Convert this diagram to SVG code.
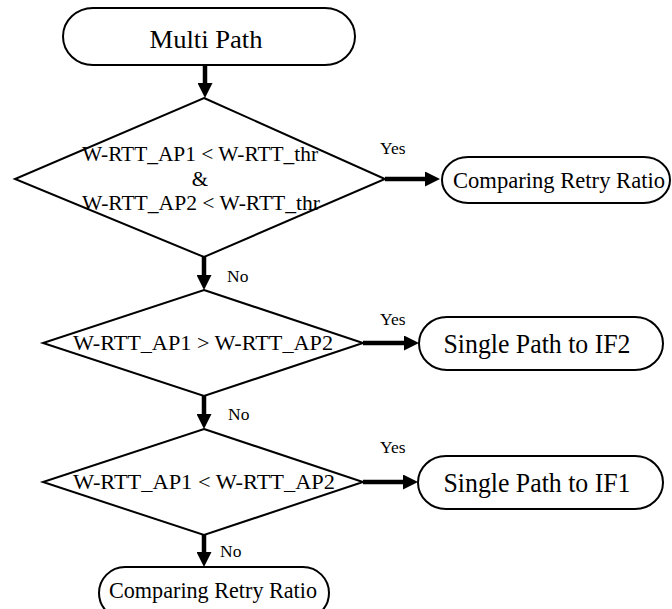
<svg xmlns="http://www.w3.org/2000/svg" width="672" height="609" viewBox="0 0 672 609">
<style>
.shape{fill:#fff;stroke:#000;stroke-width:2}
.conn{stroke:#000;stroke-width:4.5;fill:none}
text{font-family:"Liberation Serif","Times New Roman",serif;fill:#000}
.lbl{font-size:17.5px}
.t{text-anchor:middle}
</style>
<defs>
<marker id="ah" viewBox="0 0 15 15" refX="0" refY="7.5" markerWidth="15" markerHeight="15" markerUnits="userSpaceOnUse" orient="auto">
<path d="M0,0 L15,7.5 L0,15 z" fill="#000"/>
</marker>
</defs>
<rect width="672" height="609" fill="#fff"/>
<g id="connectors">
<line class="conn" x1="205" y1="65" x2="205" y2="83" marker-end="url(#ah)"/>
<line class="conn" x1="204" y1="257" x2="204" y2="275" marker-end="url(#ah)"/>
<line class="conn" x1="204" y1="396" x2="204" y2="414" marker-end="url(#ah)"/>
<line class="conn" x1="204" y1="535" x2="204" y2="552" marker-end="url(#ah)"/>
<line class="conn" x1="385" y1="179" x2="425" y2="179" marker-end="url(#ah)"/>
<line class="conn" x1="363" y1="343" x2="404" y2="343" marker-end="url(#ah)"/>
<line class="conn" x1="363" y1="482" x2="403" y2="482" marker-end="url(#ah)"/>
<text class="lbl" x="380" y="154">Yes</text>
<text class="lbl" x="227" y="282">No</text>
<text class="lbl" x="380" y="325">Yes</text>
<text class="lbl" x="228" y="420">No</text>
<text class="lbl" x="380" y="453">Yes</text>
<text class="lbl" x="220" y="557">No</text>
</g>
<g id="start">
<rect class="shape" x="63" y="8" width="292" height="57" rx="30" ry="28.5"/>
<text class="t" x="206" y="48" font-size="26" textLength="113" lengthAdjust="spacingAndGlyphs">Multi Path</text>
</g>
<g id="decision1">
<polygon class="shape" points="204,98 385,179 204,257 15,179"/>
<text class="t" x="200" y="161" font-size="21" textLength="236" lengthAdjust="spacingAndGlyphs">W-RTT_AP1 &lt; W-RTT_thr</text>
<text class="t" x="200" y="186" font-size="21">&amp;</text>
<text class="t" x="201" y="210" font-size="21" textLength="238" lengthAdjust="spacingAndGlyphs">W-RTT_AP2 &lt; W-RTT_thr</text>
</g>
<g id="retry1">
<rect class="shape" x="442" y="157" width="228" height="46" rx="26" ry="23"/>
<text class="t" x="559" y="188" font-size="23" textLength="212" lengthAdjust="spacingAndGlyphs">Comparing Retry Ratio</text>
</g>
<g id="decision2">
<polygon class="shape" points="204,290 363,343 204,396 43,343"/>
<text class="t" x="203" y="350" font-size="22" textLength="260" lengthAdjust="spacingAndGlyphs">W-RTT_AP1 &gt; W-RTT_AP2</text>
</g>
<g id="if2">
<rect class="shape" x="419" y="317" width="244" height="53" rx="28" ry="26.5"/>
<text class="t" x="537" y="353" font-size="27" textLength="187" lengthAdjust="spacingAndGlyphs">Single Path to IF2</text>
</g>
<g id="decision3">
<polygon class="shape" points="204,429 363,482 204,535 43,482"/>
<text class="t" x="204" y="489" font-size="22" textLength="262" lengthAdjust="spacingAndGlyphs">W-RTT_AP1 &lt; W-RTT_AP2</text>
</g>
<g id="if1">
<rect class="shape" x="418" y="456" width="245" height="53" rx="28" ry="26.5"/>
<text class="t" x="537" y="492" font-size="27" textLength="187" lengthAdjust="spacingAndGlyphs">Single Path to IF1</text>
</g>
<g id="retry2">
<rect class="shape" x="99" y="567" width="230" height="52" rx="26" ry="26"/>
<text class="t" x="213" y="598" font-size="23" textLength="208" lengthAdjust="spacingAndGlyphs">Comparing Retry Ratio</text>
</g>
</svg>
